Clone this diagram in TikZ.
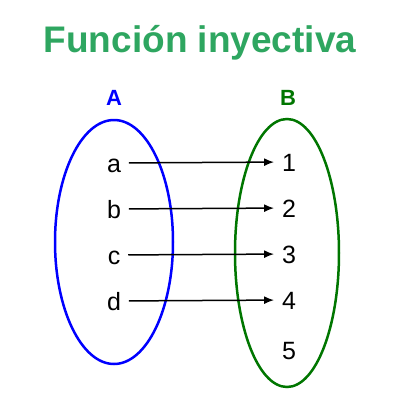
\documentclass[tikz,border=0pt]{standalone}
\usepackage{fontspec}
\setmainfont{Liberation Sans}
\usetikzlibrary{positioning}
\usetikzlibrary{arrows.meta}
\usetikzlibrary{shapes.geometric}
\definecolor{titlegreen}{RGB}{46,166,96}
\definecolor{setgreen}{RGB}{0,118,0}
\tikzset{
	x = 1pt, y = -1pt,
	node distance = 46pt and 46pt,
	every node/.style={align=center},
	elem/.style = {font=\fontsize{25}{25}\selectfont, text height=18pt, text depth=0pt, inner sep=4pt, outer sep=4pt},
	setname/.style = {font=\fontsize{22}{22}\selectfont\bfseries, text height=16pt, text depth=0pt},
	setbox/.style = {ellipse, draw, line width=2.5pt, inner sep=0pt},
	map/.style = {-{Latex[length=10pt,width=8pt]}, line width=1.5pt}
}

\begin{document}
\begin{tikzpicture}
	\useasboundingbox (0,0) rectangle (400,400);
	\node (title) at (200,39) [font=\fontsize{37}{37}\selectfont\bfseries, text height=27pt, text depth=0pt, text=titlegreen] {Función inyectiva};
	
	\node (setA) at (114,242) [setbox, draw=blue, minimum width=118pt, minimum height=244pt] {};
	\node (setB) at (287,253) [setbox, draw=setgreen, minimum width=104pt, minimum height=268pt] {};
	\node (nameA) at (114,97) [setname, text=blue] {A};
	\node (nameB) at (288,97) [setname, text=setgreen] {B};
	
%	elements of A
	\node (a) at (114,163) [elem] {a};
	\node (b) [elem, on grid, below = of a] {b};
	\node (c) [elem, on grid, below = of b] {c};
	\node (d) [elem, on grid, below = of c] {d};
	
%	elements of B
	\node (n1) at (289,162) [elem] {1};
	\node (n2) [elem, on grid, below = of n1] {2};
	\node (n3) [elem, on grid, below = of n2] {3};
	\node (n4) [elem, on grid, below = of n3] {4};
	\node (n5) [elem, on grid, below = 50pt of n4] {5};
	
	\draw[map] (a) -- (n1);
	\draw[map] (b) -- (n2);
	\draw[map] (c) -- (n3);
	\draw[map] (d) -- (n4);
\end{tikzpicture}
\end{document}
